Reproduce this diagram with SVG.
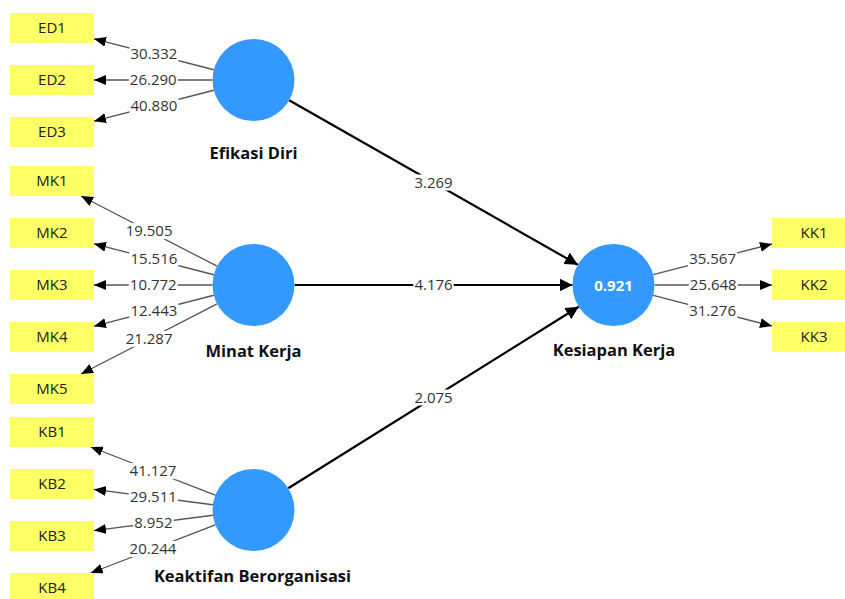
<svg xmlns="http://www.w3.org/2000/svg" width="845" height="599" viewBox="0 0 845 599">
<style>
.box{fill:#ffff66}
.bt{font-family:"Open Sans","Noto Sans",sans-serif;font-size:15px;fill:#222;text-anchor:middle}
.lv{fill:#3399ff}
.ln{font-family:"Open Sans","Noto Sans",sans-serif;font-size:16.5px;font-weight:bold;fill:#111;text-anchor:middle}
.r2{font-family:"Open Sans","Noto Sans",sans-serif;font-size:15px;font-weight:bold;fill:#fff;text-anchor:middle}
.ld{stroke:#555;stroke-width:1.3;fill:none;marker-end:url(#a1)}
.pt{stroke:#000;stroke-width:2.2;fill:none;marker-end:url(#a2)}
.lb{fill:#fff}
.nt{font-family:"Open Sans","Noto Sans",sans-serif;font-size:15px;fill:#333;text-anchor:middle}
</style>
<defs>
<marker id="a1" markerUnits="userSpaceOnUse" markerWidth="13" markerHeight="11" refX="12" refY="5" orient="auto"><path d="M0,0 L12,5 L0,10 z" fill="#000"/></marker>
<marker id="a2" markerUnits="userSpaceOnUse" markerWidth="14" markerHeight="14" refX="13" refY="6.5" orient="auto"><path d="M0,0 L13,6.5 L0,13 z" fill="#000"/></marker>
</defs>
<rect width="845" height="599" fill="#fff"/>

<g id="connectors">
<line class="ld" x1="213.8" y1="69.75" x2="94" y2="38.8"/>
<line class="ld" x1="212.5" y1="80" x2="94" y2="80"/>
<line class="ld" x1="213.8" y1="90.25" x2="94" y2="121.2"/>
<line class="ld" x1="217.07" y1="266.2" x2="81.1" y2="196"/>
<line class="ld" x1="213.8" y1="274.75" x2="94" y2="243.84"/>
<line class="ld" x1="212.5" y1="285" x2="94" y2="285"/>
<line class="ld" x1="213.8" y1="295.25" x2="94" y2="326.16"/>
<line class="ld" x1="217.07" y1="303.8" x2="81.1" y2="374"/>
<line class="ld" x1="215.26" y1="495.2" x2="90.75" y2="447"/>
<line class="ld" x1="212.84" y1="504.75" x2="94" y2="489.4"/>
<line class="ld" x1="212.84" y1="515.25" x2="94" y2="530.6"/>
<line class="ld" x1="215.26" y1="524.8" x2="90.75" y2="573"/>
<line class="ld" x1="653.19" y1="274.71" x2="772" y2="243.9"/>
<line class="ld" x1="654.5" y1="285" x2="772" y2="285"/>
<line class="ld" x1="653.19" y1="295.29" x2="772" y2="326.1"/>
<line class="pt" x1="289.13" y1="100.29" x2="577.87" y2="264.71"/>
<line class="pt" x1="294.5" y1="285" x2="572.5" y2="285"/>
<line class="pt" x1="288.27" y1="488.27" x2="578.73" y2="306.73"/>

<rect class="lb" x="129.4" y="46.3" width="49" height="16"/><text class="nt" x="153.9" y="59.3">30.332</text>
<rect class="lb" x="128.75" y="72" width="49" height="16"/><text class="nt" x="153.25" y="85">26.290</text>
<rect class="lb" x="129.4" y="97.7" width="49" height="16"/><text class="nt" x="153.9" y="110.7">40.880</text>
<rect class="lb" x="124.6" y="223.1" width="49" height="16"/><text class="nt" x="149.1" y="236.1">19.505</text>
<rect class="lb" x="129.4" y="251.3" width="49" height="16"/><text class="nt" x="153.9" y="264.3">15.516</text>
<rect class="lb" x="128.75" y="277" width="49" height="16"/><text class="nt" x="153.25" y="290">10.772</text>
<rect class="lb" x="129.4" y="302.7" width="49" height="16"/><text class="nt" x="153.9" y="315.7">12.443</text>
<rect class="lb" x="124.6" y="330.9" width="49" height="16"/><text class="nt" x="149.1" y="343.9">21.287</text>
<rect class="lb" x="128.5" y="463.1" width="49" height="16"/><text class="nt" x="153" y="476.1">41.127</text>
<rect class="lb" x="128.9" y="489.1" width="49" height="16"/><text class="nt" x="153.4" y="502.1">29.511</text>
<rect class="lb" x="133.2" y="514.9" width="40.4" height="16"/><text class="nt" x="153.4" y="527.9">8.952</text>
<rect class="lb" x="128.5" y="540.9" width="49" height="16"/><text class="nt" x="153" y="553.9">20.244</text>
<rect class="lb" x="688.1" y="251.3" width="49" height="16"/><text class="nt" x="712.6" y="264.3">35.567</text>
<rect class="lb" x="688.75" y="277" width="49" height="16"/><text class="nt" x="713.25" y="290">25.648</text>
<rect class="lb" x="688.1" y="302.7" width="49" height="16"/><text class="nt" x="712.6" y="315.7">31.276</text>
<rect class="lb" x="413.3" y="174.5" width="40.4" height="16"/><text class="nt" x="433.5" y="187.5">3.269</text>
<rect class="lb" x="413.3" y="277" width="40.4" height="16"/><text class="nt" x="433.5" y="290">4.176</text>
<rect class="lb" x="413.3" y="389.5" width="40.4" height="16"/><text class="nt" x="433.5" y="402.5">2.075</text>
</g>

<g id="ED1"><rect class="box" x="10" y="13" width="84" height="30"/><text class="bt" x="52" y="33">ED1</text></g>
<g id="ED2"><rect class="box" x="10" y="65" width="84" height="30"/><text class="bt" x="52" y="85">ED2</text></g>
<g id="ED3"><rect class="box" x="10" y="117" width="84" height="30"/><text class="bt" x="52" y="137">ED3</text></g>
<g id="MK1"><rect class="box" x="10" y="166" width="84" height="30"/><text class="bt" x="52" y="186">MK1</text></g>
<g id="MK2"><rect class="box" x="10" y="218" width="84" height="30"/><text class="bt" x="52" y="238">MK2</text></g>
<g id="MK3"><rect class="box" x="10" y="270" width="84" height="30"/><text class="bt" x="52" y="290">MK3</text></g>
<g id="MK4"><rect class="box" x="10" y="322" width="84" height="30"/><text class="bt" x="52" y="342">MK4</text></g>
<g id="MK5"><rect class="box" x="10" y="374" width="84" height="30"/><text class="bt" x="52" y="394">MK5</text></g>
<g id="KB1"><rect class="box" x="10" y="417" width="84" height="30"/><text class="bt" x="52" y="437">KB1</text></g>
<g id="KB2"><rect class="box" x="10" y="469" width="84" height="30"/><text class="bt" x="52" y="489">KB2</text></g>
<g id="KB3"><rect class="box" x="10" y="521" width="84" height="30"/><text class="bt" x="52" y="541">KB3</text></g>
<g id="KB4"><rect class="box" x="10" y="573" width="84" height="30"/><text class="bt" x="52" y="593">KB4</text></g>
<g id="KK1"><rect class="box" x="772" y="218" width="84" height="30"/><text class="bt" x="814" y="238">KK1</text></g>
<g id="KK2"><rect class="box" x="772" y="270" width="84" height="30"/><text class="bt" x="814" y="290">KK2</text></g>
<g id="KK3"><rect class="box" x="772" y="322" width="84" height="30"/><text class="bt" x="814" y="342">KK3</text></g>

<g id="EfikasiDiri"><circle class="lv" cx="253.5" cy="80" r="41"/><text class="ln" x="253.5" y="159">Efikasi Diri</text></g>
<g id="MinatKerja"><circle class="lv" cx="253.5" cy="285" r="41"/><text class="ln" x="253.5" y="357">Minat Kerja</text></g>
<g id="KeaktifanBerorganisasi"><circle class="lv" cx="253.5" cy="510" r="41"/><text class="ln" x="252.5" y="582">Keaktifan Berorganisasi</text></g>
<g id="KesiapanKerja"><circle class="lv" cx="613.5" cy="285" r="41"/><text class="r2" x="613.5" y="290.5">0.921</text><text class="ln" x="614" y="356">Kesiapan Kerja</text></g>
</svg>
